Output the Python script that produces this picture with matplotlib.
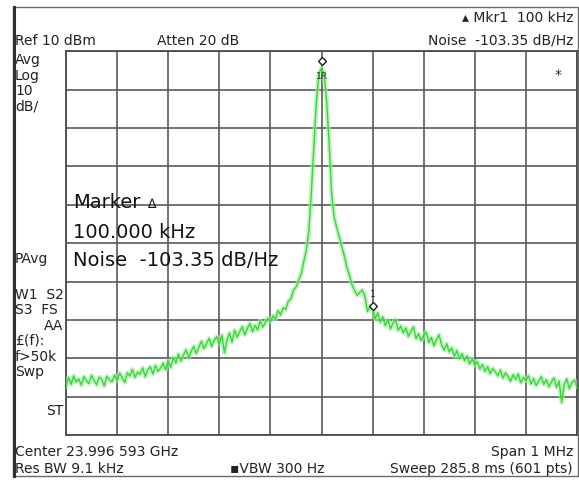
import numpy as np
import matplotlib
matplotlib.use("Agg")
import matplotlib.pyplot as plt
import matplotlib.transforms as mtransforms
from matplotlib.patches import Rectangle
from matplotlib.lines import Line2D

# ---------------- data ----------------
span_khz = 1000
ref_level_dbm = 10
db_per_div = 10
n_div = 10
marker_delta_khz = 100

# trace level (dBm), one value every 5 kHz, -500 kHz .. +500 kHz
levels_dbm = [
    -77.5, -75.0, -76.8, -74.6, -76.2, -75.4, -77.0, -74.8, -75.9, -76.6,
    -74.5, -75.8, -76.9, -74.9, -75.5, -77.2, -74.7, -75.6, -76.1, -74.4,
    -75.8, -73.9, -75.1, -76.3, -73.8, -74.6, -72.9, -75.0, -73.6, -74.2,
    -72.5, -74.8, -73.0, -72.2, -74.1, -71.9, -73.4, -72.6, -71.3, -73.0,
    -70.6, -72.4, -69.8, -71.2, -68.9, -70.7, -69.1, -67.8, -69.9, -68.2,
    -66.9, -68.8, -67.1, -65.6, -67.5, -66.2, -64.8, -66.9, -65.3, -64.4,
    -66.3, -64.0, -68.6, -65.2, -63.4, -65.8, -62.7, -64.5, -63.0, -61.8,
    -63.9, -62.2, -60.9, -63.1, -61.4, -62.6, -60.2, -61.9, -60.7, -59.6,
    -60.5, -58.9, -59.8, -57.6, -58.7, -56.8, -57.3, -55.1, -54.6, -52.3,
    -51.5, -49.8, -48.2, -45.0, -42.0, -37.2, -27.0, -15.0, -3.0, 4.2,
    5.6,
    4.2, -3.0, -14.0, -27.5, -33.5, -36.0, -38.5, -41.0, -43.5, -46.5,
    -48.5, -51.0, -52.4, -53.6, -52.8, -52.2, -53.9, -57.8, -56.4, -56.5,
    -59.8, -58.1, -60.6, -59.2, -61.5, -60.0, -62.3, -60.8, -59.9, -62.7,
    -61.6, -63.4, -62.1, -64.3, -62.9, -61.8, -64.9, -63.6, -65.4, -64.0,
    -63.2, -65.9, -64.6, -66.8, -65.1, -63.9, -66.5, -67.9, -66.2, -68.4,
    -67.3, -69.5, -68.0, -70.1, -68.8, -70.6, -69.4, -71.5, -70.2, -71.8,
    -70.9, -72.8, -71.6, -73.4, -72.2, -74.0, -72.7, -73.5, -74.6, -73.1,
    -75.2, -73.8, -74.7, -76.0, -74.3, -75.5, -74.1, -76.4, -75.0, -75.8,
    -74.6, -76.7, -75.3, -77.1, -75.9, -74.8, -76.8, -75.6, -77.4, -76.2,
    -75.1, -77.6, -76.0, -81.5, -76.8, -75.4, -77.9, -76.3, -75.7, -77.3,
]

top_left_labels = ["Ref 10 dBm", "Atten 20 dB"]
top_right_labels = ["\u25b4 Mkr1  100 kHz", "Noise  -103.35 dB/Hz"]
side_labels_top = ["Avg", "Log", "10", "dB/"]
side_labels_mid = ["PAvg", "W1  S2", "S3  FS", "AA", "\u00a3(f):", "f>50k", "Swp", "ST"]
bottom_labels = ["Center 23.996 593 GHz", "Span 1 MHz", "Res BW 9.1 kHz",
                 "\u25aaVBW 300 Hz", "Sweep 285.8 ms (601 pts)"]
marker_block = ["Marker", "100.000 kHz", "Noise  -103.35 dB/Hz"]

# ---------------- figure ----------------
W, H = 579, 481
fig = plt.figure(figsize=(W / 100, H / 100), dpi=100)
fig.patch.set_facecolor("white")

ax_l, ax_r, ax_t, ax_b = 66, 577, 52.3, 436
ax = fig.add_axes([ax_l / W, 1 - ax_b / H, (ax_r - ax_l) / W, (ax_b - ax_t) / H])

freq_khz = np.linspace(-span_khz / 2, span_khz / 2, len(levels_dbm))
bottom_dbm = ref_level_dbm - db_per_div * n_div

ax.set_xlim(-span_khz / 2, span_khz / 2)
ax.set_ylim(bottom_dbm, ref_level_dbm)
ax.set_xticks(np.linspace(-span_khz / 2, span_khz / 2, n_div + 1))
ax.set_yticks(np.arange(bottom_dbm, ref_level_dbm + 1, db_per_div))
ax.tick_params(length=0, labelbottom=False, labelleft=False)
ax.grid(True, color="#5a5a5a", lw=1.2)
ax.set_axisbelow(True)
for s in ax.spines.values():
    s.set_color("#4a4a4a")
    s.set_linewidth(1.3)

# trace (halo + core)
ax.plot(freq_khz, levels_dbm, color="#a6eea6", lw=3.4, alpha=0.65, solid_joinstyle="round", zorder=3)
ax.plot(freq_khz, levels_dbm, color="#36d836", lw=1.0, zorder=4)

# markers
lev = np.asarray(levels_dbm)
pk_i = int(np.argmax(lev))
pk_f, pk_v = freq_khz[pk_i], lev[pk_i]
up = mtransforms.offset_copy(ax.transData, fig=fig, y=5.4, units="points")
down = mtransforms.offset_copy(ax.transData, fig=fig, y=-5.4, units="points")
ax.plot([pk_f], [pk_v], marker="D", ms=4.5, mfc="white", mec="#202020", mew=1.0,
        transform=up, zorder=6, clip_on=False)
ax.text(pk_f, pk_v, "1R", transform=down, ha="center", va="center",
        fontsize=6.5, color="#303030", zorder=6)

d_f = pk_f + marker_delta_khz
d_v = float(np.interp(d_f, freq_khz, lev))
ax.plot([d_f], [d_v], marker="D", ms=4.5, mfc="white", mec="#202020", mew=1.0, zorder=6)
up2 = mtransforms.offset_copy(ax.transData, fig=fig, y=9, units="points")
ax.text(d_f, d_v, "1", transform=up2, ha="center", va="center",
        fontsize=6.5, color="#303030", zorder=6)

ax.text((558 - ax_l) / (ax_r - ax_l), 1 - (75 - ax_t) / (ax_b - ax_t), "*",
        transform=ax.transAxes, ha="center", va="center", fontsize=10, color="#303030")

# big marker readout
def axy(py):
    return 1 - (py - ax_t) / (ax_b - ax_t)

bx = (73 - ax_l) / (ax_r - ax_l)
ax.text(bx, axy(208.5), marker_block[0], transform=ax.transAxes, ha="left",
        va="baseline", fontsize=14, color="#111111", zorder=7)
ax.text((147 - ax_l) / (ax_r - ax_l), axy(208.5), "\u2206", transform=ax.transAxes,
        ha="left", va="baseline", fontsize=9, color="#111111", zorder=7)
ax.text(bx, axy(238.5), marker_block[1], transform=ax.transAxes, ha="left",
        va="baseline", fontsize=14, color="#111111", zorder=7)
ax.text(bx, axy(265.5), marker_block[2], transform=ax.transAxes, ha="left",
        va="baseline", fontsize=14, color="#111111", zorder=7)

# ---------------- screen annotations ----------------
def ftxt(px, py, s, ha="left", size=10):
    fig.text(px / W, 1 - py / H, s, ha=ha, va="center", fontsize=size, color="#222222")

ftxt(573, 18, top_right_labels[0], ha="right")
ftxt(15, 41, top_left_labels[0])
ftxt(157, 41, top_left_labels[1])
ftxt(573, 41, top_right_labels[1], ha="right")

for lab, py in zip(side_labels_top, [60, 76, 91, 107]):
    ftxt(15, py, lab)

mid_pos = [(15, 259, "left"), (15, 295, "left"), (15, 310, "left"), (63, 326, "right"),
           (15, 341, "left"), (15, 357, "left"), (15, 372, "left"), (63, 411, "right")]
for lab, (px, py, ha) in zip(side_labels_mid, mid_pos):
    ftxt(px, py, lab, ha=ha)

ftxt(15, 452, bottom_labels[0])
ftxt(573, 452, bottom_labels[1], ha="right")
ftxt(15, 469, bottom_labels[2])
ftxt(230, 469, bottom_labels[3])
ftxt(573, 469, bottom_labels[4], ha="right")

# outer frame
fig.add_artist(Rectangle((13 / W, 1 - 477 / H), (578 - 13) / W, (477 - 8) / H,
                         transform=fig.transFigure, fill=False, ec="#6a6a6a", lw=1.0))
fig.add_artist(Line2D([14 / W, 14 / W], [1 - 477 / H, 1 - 8 / H], transform=fig.transFigure,
                      color="#303030", lw=2.2))

fig.savefig("out.png", dpi=100, facecolor="white")
